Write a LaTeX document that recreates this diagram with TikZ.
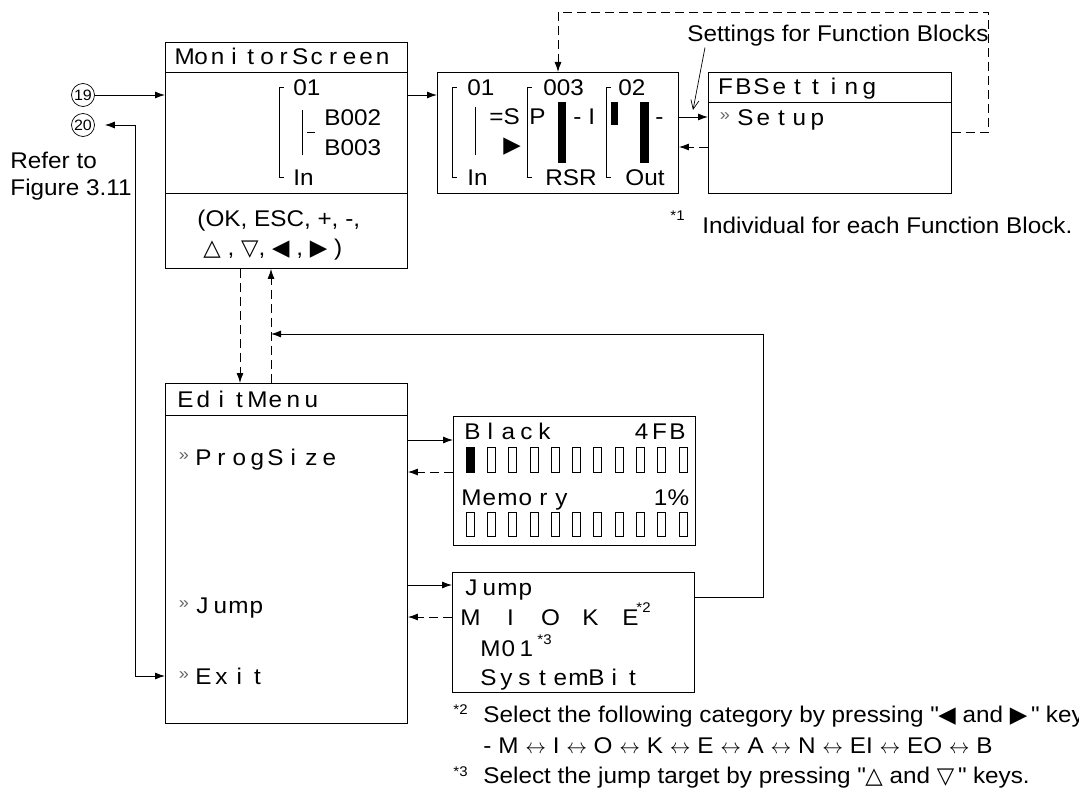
\documentclass[tikz,border=0pt]{standalone}
\usepackage{fontspec}
\setmainfont{Liberation Sans}[FakeStretch=1.07]
\newfontfamily\symfont{DejaVu Sans}[Scale=1.0]
\usetikzlibrary{arrows.meta, calc}

\newcommand{\mainsz}{\fontsize{22.7pt}{27pt}\selectfont}
\newcommand{\smallsz}{\fontsize{14pt}{16pt}\selectfont}
% one character per fixed cell, like the LCD
\newlength{\lcdcell}
\newcommand{\lcd}[2][18pt]{\setlength{\lcdcell}{#1}\lcdloop#2\relax}
\def\lcdloop#1{\ifx#1\relax\else\makebox[\lcdcell]{#1}\expandafter\lcdloop\fi}

\tikzset{
  box/.style={draw, rectangle, inner sep=0pt, anchor=north west},
  txt/.style={inner sep=0pt, anchor=west, text height=16.2pt, text depth=0pt},
  selmark/.style={inner sep=0pt, text=black!60, font=\fontsize{17pt}{17pt}\selectfont},
  note/.style={inner sep=0pt, anchor=west, font=\smallsz},
  dline/.style={dash pattern=on 9pt off 5pt},
  thinline/.style={line width=0.7pt}
}

\begin{document}
\begin{tikzpicture}[x=1pt,y=-1pt,line width=0.9pt,>={Latex[length=10pt,width=7pt]},font=\mainsz]
\useasboundingbox (0,0) rectangle (1079,789);

    % Monitor screen
    \node[box, minimum width=242pt, minimum height=226pt] (mon) at (165,42) {};
    \draw ([yshift=-30pt]mon.north west) -- ([yshift=-30pt]mon.north east);
    \draw ([yshift=-151pt]mon.north west) -- ([yshift=-151pt]mon.north east);
    \node[txt] (montitle) at (176,56) {\lcd[16.5pt]{MonitorScreen}};
    \draw[thinline] (284,87) -- (279,87) -- (279,177) -- (284,177);
    \draw[thinline] (302,110) -- (302,155);
    \draw[thinline] (307,132) -- (315,132);
    \node[txt] (mon01) at (293,87) {01};
    \node[txt] (monb2) at (324,117) {B002};
    \node[txt] (monb3) at (324,147) {B003};
    \node[txt] (monin) at (293,177) {In};
    \node[txt] (keys1) at (197,218) {(OK, ESC, +, -,};
    \node[txt] (keys2) at (203,247) {{\symfont △} , {\symfont ▽}, {\symfont ◀} , {\symfont ▶} )};

    % Function block display
    \node[box, minimum width=241pt, minimum height=121pt] (fbd) at (437,72) {};
    \draw[thinline] (457,87) -- (452,87) -- (452,177) -- (457,177);
    \draw[thinline] (475,107) -- (475,155);
    \draw[thinline] (532,87) -- (527,87) -- (527,177) -- (532,177);
    \draw[thinline] (611,87) -- (606,87) -- (606,177) -- (611,177);
    \fill (558,102) rectangle (566,163);
    \fill (611,102) rectangle (618,125);
    \fill (640,102) rectangle (649,163);
    \node[txt] (fb01) at (467,87) {01};
    \node[txt] (fbeq) at (489,116) {=S};
    \node[inner sep=0pt] (fbtri) at (512,147) {\symfont ▶};
    \node[txt] (fbin) at (467,177) {In};
    \node[txt] (fb003) at (543,87) {003};
    \node[txt] (fbp) at (529,116) {P};
    \node[txt] (fbi) at (573,116) {- I};
    \node[txt] (fbrsr) at (545,177) {RSR};
    \node[txt] (fb02) at (618,87) {02};
    \node[txt] (fbdash) at (655,116) {-};
    \node[txt] (fbout) at (625,177) {Out};

    % FB setting screen
    \node[box, minimum width=243pt, minimum height=121pt] (fbs) at (708,72) {};
    \draw ([yshift=-30pt]fbs.north west) -- ([yshift=-30pt]fbs.north east);
    \node[txt] (fbstitle) at (716,86) {\lcd{FBSetting}};
    \node[selmark] (selsetup) at (725,117) {»};
    \node[txt] (setup) at (736,117) {\lcd{Setup}};

    \node[txt] (setlbl) at (687,33) {Settings for Function Blocks};
    \node[note] (mark1) at (670,216) {*1};
    \node[txt] (note1) at (702,225) {Individual for each Function Block.};

    % Edit menu
    \node[box, minimum width=242pt, minimum height=340pt] (edit) at (165,383) {};
    \draw ([yshift=-32pt]edit.north west) -- ([yshift=-32pt]edit.north east);
    \node[txt] (edittitle) at (176,399) {\lcd{EditMenu}};
    \node[selmark] (selprog) at (184,457) {»};
    \node[txt] (progsize) at (194,457) {\lcd{ProgSize}};
    \node[selmark] (seljump) at (184,605) {»};
    \node[txt] (jumpitem) at (193,605) {\lcd{Jump}};
    \node[selmark] (selexit) at (184,676) {»};
    \node[txt] (exititem) at (194,676) {\lcd{Exit}};

    % Program size screen
    \node[box, minimum width=242pt, minimum height=129pt] (prog) at (453,416) {};
    \node[txt] (black) at (463,431) {\lcd{Black}};
    \node[txt, anchor=east] (fbcnt) at (687,431) {\lcd{4FB}};
    \node[txt] (memory) at (462,497) {\lcd{Memory}};
    \node[txt, anchor=east] (mempct) at (688,497) {\lcd{1\%}};
    \foreach \i in {0,...,10} {
        \draw[thinline] ({466+21.3*\i},447) rectangle ++(8,25);
        \draw[thinline] ({466+21.3*\i},512) rectangle ++(8,24);
    }
    \fill (466,447) rectangle ++(8,25);

    % Jump screen
    \node[box, minimum width=242pt, minimum height=120pt] (jump) at (452,572) {};
    \node[txt] (jumptitle) at (462,587) {\lcd{Jump}};
    \node[txt] (cats) at (460,617) {\lcd[20pt]{M~I~O~K~E}};
    \node[note] (mark2) at (636,608) {*2};
    \node[txt] (m01) at (481,648) {\lcd{M01}};
    \node[note] (mark3) at (537,640) {*3};
    \node[txt] (sysbit) at (479,677) {\lcd{SystemBit}};

    % Notes
    \node[note] (mark2b) at (453,710) {*2};
    \node[txt] (note2) at (483,714) {Select the following category by pressing \textquotedbl{\symfont ◀} and {\symfont ▶}\,\textquotedbl{} keys.};
    \node[txt] (note2b) at (483,745) {- M $\leftrightarrow$ I $\leftrightarrow$ O $\leftrightarrow$ K $\leftrightarrow$ E $\leftrightarrow$ A $\leftrightarrow$ N $\leftrightarrow$ EI $\leftrightarrow$ EO $\leftrightarrow$ B};
    \node[note] (mark3b) at (453,772) {*3};
    \node[txt] (note3) at (483,775) {Select the jump target by pressing \textquotedbl{\symfont △} and {\symfont ▽}\,\textquotedbl{} keys.};

    % Left side
    \node[circle, draw, thinline, inner sep=0pt, minimum size=23pt, font=\fontsize{15pt}{15pt}\selectfont] (n19) at (83,95) {19};
    \node[circle, draw, thinline, inner sep=0pt, minimum size=23pt, font=\fontsize{15pt}{15pt}\selectfont] (n20) at (83,125) {20};
    \node[inner sep=0pt, anchor=north west, align=left] (refer) at (10,152) {Refer to\\Figure 3.11};

    % Connectors
    \coordinate (bend) at (135,676);
    \coordinate (ptend) at (693,110);
    \coordinate (retpt) at (271,334);
    \draw[->] (n19) -- (n19 -| mon.west);
    \draw[<->, shorten <=10pt] (n20.east) -| (bend) -- (bend -| edit.west);
    \draw[->] ([yshift=-53pt]mon.north east) -- ([yshift=-23pt]fbd.north west);
    \draw[->] (selsetup -| fbd.east) -- (selsetup -| fbs.west);
    \draw[dline, ->] ([yshift=-75pt]fbs.north west) -- ([yshift=-75pt]fbd.north east);
    \draw[dline, ->] ([yshift=-60pt]fbs.north east) -- ++(37,0) |- ([xshift=121pt,yshift=60pt]fbd.north west) -- ([xshift=121pt]fbd.north west);
    \draw[thinline, -{Straight Barb[length=9pt,width=8pt]}] ([shift={(18,6)}]setlbl.south west) -- (ptend);

    \draw[dline, ->] ([xshift=75pt]mon.south west) -- ([xshift=75pt]edit.north west);
    \draw[dline, ->] ([xshift=106pt]edit.north west) -- ([xshift=106pt]mon.south west);
    \draw[->] ([yshift=35pt]jump.east) -- ++(69,0) |- (retpt);

    \draw[->] (selprog -| edit.east) ++(0,-17) -- ([yshift=-24pt]prog.north west);
    \draw[dline, ->] ([yshift=-56pt]prog.north west) -- ([yshift=-56pt]prog.north west -| edit.east);
    \draw[->] ([yshift=-13pt]jump.north west -| edit.east) -- ([yshift=-13pt]jump.north west);
    \draw[dline, ->] ([yshift=-45pt]jump.north west) -- ([yshift=-45pt]jump.north west -| edit.east);
\end{tikzpicture}
\end{document}
